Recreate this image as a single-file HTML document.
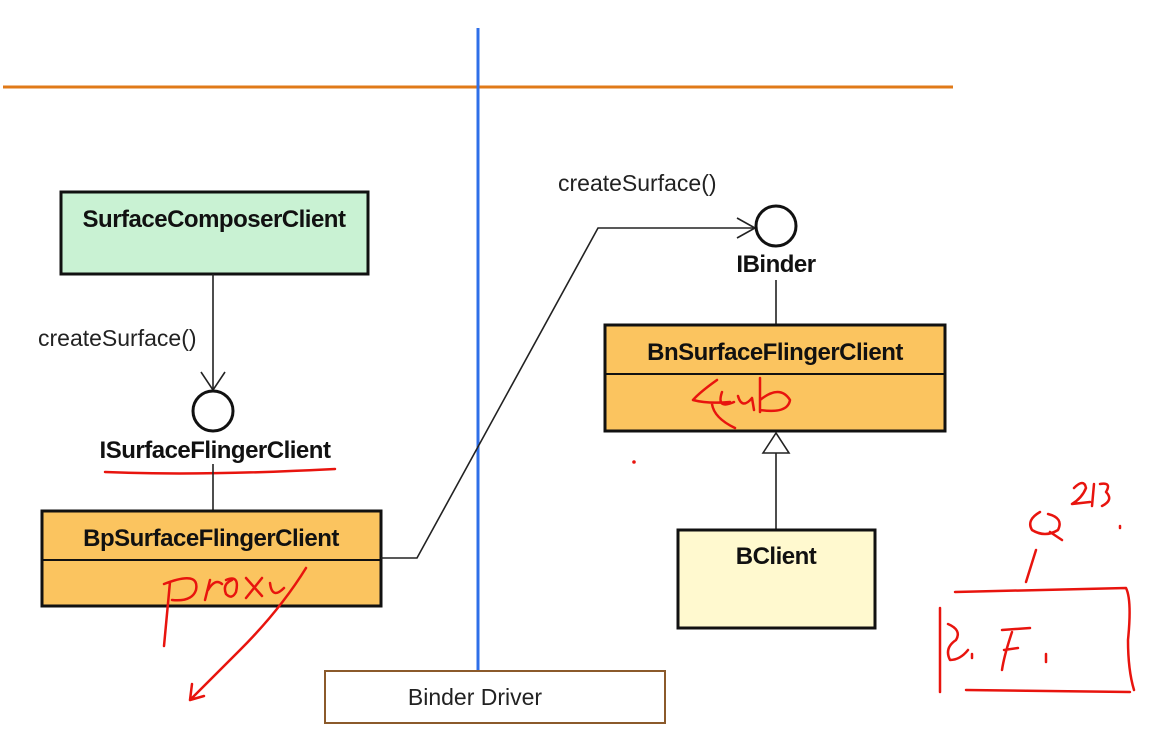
<!DOCTYPE html>
<html><head><meta charset="utf-8"><style>
html,body{margin:0;padding:0;background:#fff;width:1152px;height:753px;overflow:hidden}
svg{display:block}
text{font-family:"Liberation Sans",Arial,sans-serif}
.b{font-weight:bold;font-size:24px;fill:#111;letter-spacing:-0.5px}
.n{font-size:23px;fill:#222;letter-spacing:0px}
.r{fill:none;stroke:#e8140e;stroke-width:2.5;stroke-linecap:round;stroke-linejoin:round}
</style></head><body>
<svg width="1152" height="753" viewBox="0 0 1152 753">
<line x1="3" y1="87" x2="953" y2="87" stroke="#e07a18" stroke-width="3"/>
<line x1="478" y1="28" x2="478" y2="670" stroke="#2f6fe8" stroke-width="3"/>

<rect x="61" y="192" width="307" height="82" fill="#c9f2d3" stroke="#111" stroke-width="3"/>
<text class="b" x="214" y="227" text-anchor="middle">SurfaceComposerClient</text>
<line x1="213" y1="274" x2="213" y2="390" stroke="#222" stroke-width="1.6"/>
<polyline points="201,372 213,390 225,372" fill="none" stroke="#222" stroke-width="1.6"/>
<text class="n" x="38" y="346">createSurface()</text>
<circle cx="213" cy="411" r="20" fill="#fff" stroke="#111" stroke-width="3"/>
<text class="b" x="215" y="458" text-anchor="middle">ISurfaceFlingerClient</text>
<path class="r" d="M105,472 Q200,476 335,469"/>
<line x1="213" y1="464" x2="213" y2="510" stroke="#222" stroke-width="1.6"/>

<rect x="42" y="511" width="339" height="95" fill="#fbc45f" stroke="#111" stroke-width="3"/>
<line x1="42" y1="560" x2="381" y2="560" stroke="#111" stroke-width="2"/>
<text class="b" x="211" y="546" text-anchor="middle">BpSurfaceFlingerClient</text>
<path class="r" d="M164,646 L170,582 M164,584 Q200,570 196,590 Q192,602 172,600 M205,600 L210,580 M208,590 Q215,578 222,584 M226,580 Q240,574 236,592 Q232,600 226,594 Q222,584 232,580 M246,578 L262,596 M262,578 L246,598 M270,583 Q272,600 284,588 M306,568 Q280,610 240,650 Q210,680 190,700 M190,700 L192,684 M190,700 L204,696"/>

<polyline points="381,558 417,558 598,228 755,228" fill="none" stroke="#222" stroke-width="1.6"/>
<polyline points="737,218 755,228 737,238" fill="none" stroke="#222" stroke-width="1.6"/>
<text class="n" x="558" y="191">createSurface()</text>
<circle cx="776" cy="226" r="20" fill="#fff" stroke="#111" stroke-width="3"/>
<text class="b" x="776" y="272" text-anchor="middle">IBinder</text>
<line x1="776" y1="280" x2="776" y2="325" stroke="#222" stroke-width="1.6"/>

<rect x="605" y="325" width="340" height="106" fill="#fbc45f" stroke="#111" stroke-width="3"/>
<line x1="605" y1="374" x2="945" y2="374" stroke="#111" stroke-width="2"/>
<text class="b" x="775" y="360" text-anchor="middle">BnSurfaceFlingerClient</text>
<path class="r" d="M717,380 Q700,392 693,400 Q708,404 730,402 M722,392 Q716,410 734,402 M712,404 Q714,418 735,428 M738,396 Q742,410 752,398 L754,410 M760,378 L760,412 M760,400 Q780,384 790,400 Q788,414 760,410"/>
<circle cx="634" cy="462" r="1.8" fill="#e8140e"/>

<line x1="776" y1="453" x2="776" y2="530" stroke="#222" stroke-width="1.6"/>
<polygon points="776,433 763,453 789,453" fill="#fff" stroke="#222" stroke-width="1.6"/>

<rect x="678" y="530" width="197" height="98" fill="#fff9cf" stroke="#111" stroke-width="3"/>
<text class="b" x="776" y="564" text-anchor="middle">BClient</text>

<rect x="325" y="671" width="340" height="52" fill="#fff" stroke="#8b5a2b" stroke-width="2"/>
<text class="n" x="475" y="705" text-anchor="middle">Binder Driver</text>

<path class="r" d="M1040,512 Q1026,520 1032,530 Q1045,538 1058,530 Q1064,518 1048,514 M1050,532 L1062,540 M1074,488 Q1084,478 1086,488 Q1082,498 1072,504 L1090,502 M1094,484 L1092,506 M1100,484 Q1112,482 1106,492 Q1114,500 1102,506 M1120,526 L1120,528 M1036,550 L1026,582 M955,592 L1126,588 Q1132,600 1128,640 Q1128,670 1134,690 M940,608 L940,692 M948,624 Q962,630 956,640 Q944,648 950,660 Q960,660 968,650 M972,654 L972,658 M1002,630 L1030,628 M1012,632 Q1004,656 1002,670 M1004,650 L1018,648 M1046,654 L1046,662 M966,690 L1130,692"/>
</svg>
</body></html>
